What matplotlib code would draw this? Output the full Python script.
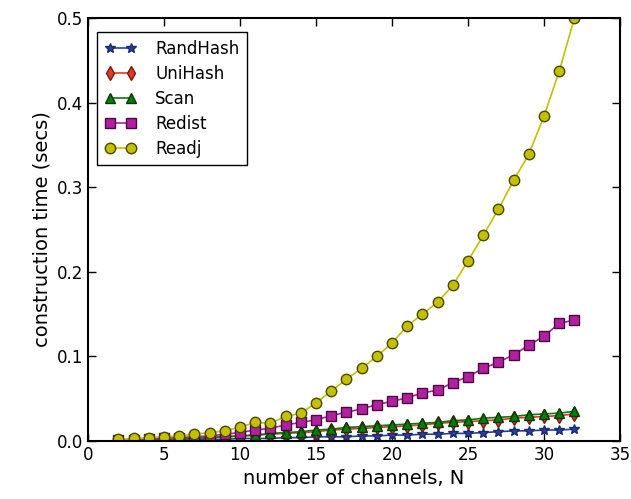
import numpy as np
import matplotlib
matplotlib.use("Agg")
import matplotlib.pyplot as plt

# channel counts
n = list(range(2, 33))

randhash = [0.000, 0.000, 0.001, 0.001, 0.001, 0.002, 0.002, 0.002, 0.003, 0.003,
            0.003, 0.004, 0.004, 0.005, 0.005, 0.005, 0.006, 0.006, 0.007, 0.007,
            0.008, 0.008, 0.009, 0.009, 0.010, 0.011, 0.012, 0.012, 0.013, 0.013, 0.014]
unihash = [0.000, 0.001, 0.001, 0.002, 0.002, 0.003, 0.004, 0.005, 0.006, 0.007,
           0.008, 0.009, 0.010, 0.011, 0.013, 0.014, 0.015, 0.016, 0.017, 0.018,
           0.019, 0.021, 0.022, 0.023, 0.024, 0.025, 0.027, 0.028, 0.029, 0.030, 0.032]
scan = [0.000, 0.001, 0.001, 0.002, 0.003, 0.003, 0.004, 0.005, 0.006, 0.007,
        0.009, 0.010, 0.011, 0.013, 0.014, 0.016, 0.017, 0.018, 0.019, 0.020,
        0.021, 0.022, 0.024, 0.025, 0.027, 0.028, 0.029, 0.031, 0.032, 0.033, 0.035]
redist = [0.001, 0.001, 0.002, 0.003, 0.004, 0.005, 0.006, 0.008, 0.010, 0.013,
          0.015, 0.019, 0.022, 0.025, 0.030, 0.034, 0.038, 0.043, 0.047, 0.051,
          0.057, 0.060, 0.069, 0.076, 0.086, 0.093, 0.102, 0.113, 0.124, 0.139, 0.143]
readj = [0.002, 0.003, 0.004, 0.005, 0.006, 0.008, 0.010, 0.012, 0.0165, 0.022,
         0.021, 0.029, 0.033, 0.045, 0.059, 0.073, 0.086, 0.100, 0.116, 0.136,
         0.150, 0.164, 0.184, 0.213, 0.243, 0.274, 0.308, 0.339, 0.384, 0.437, 0.500]

plt.rcParams['xtick.direction'] = 'in'
plt.rcParams['ytick.direction'] = 'in'
plt.rcParams['xtick.top'] = True
plt.rcParams['ytick.right'] = True

fig = plt.figure(figsize=(6.31, 4.99), dpi=100)
ax = fig.add_axes([0.1395, 0.1162, 0.8431, 0.8477])

ax.plot(n, randhash, '-*', color='#2a3f98', mec='#1a2a70', ms=7.5, lw=1.2, label='RandHash')
ax.plot(n, unihash, '-d', color='#e03a22', mec='#7a1a10', ms=7.5, lw=1.2, label='UniHash')
ax.plot(n, scan, '-^', color='#0a7a0a', mec='#063a06', ms=7.5, lw=1.2, label='Scan')
ax.plot(n, redist, '-s', color='#b020a0', mec='#4a0a40', ms=7.5, lw=1.2, label='Redist')
ax.plot(n, readj, '-o', color='#c4c000', mec='#4a4800', ms=7.5, lw=1.2, label='Readj')

ax.set_xlim(0, 35)
ax.set_ylim(0, 0.5)
ax.set_xticks([0, 5, 10, 15, 20, 25, 30, 35])
ax.set_yticks([0.0, 0.1, 0.2, 0.3, 0.4, 0.5])
ax.tick_params(labelsize=12, length=6, width=1)
for s in ax.spines.values():
    s.set_linewidth(1.5)

ax.set_xlabel('number of channels, N', fontsize=14)
ax.set_ylabel('construction time (secs)', fontsize=14)

leg = ax.legend(loc='upper left', fontsize=12, fancybox=False, framealpha=1,
                edgecolor='black', borderpad=0.45, labelspacing=0.42, numpoints=2,
                handlelength=1.9, handletextpad=1.15, borderaxespad=0,
                bbox_to_anchor=(9 / 532, 1 - 14 / 423))
leg.get_frame().set_linewidth(1.0)

fig.savefig('out.png', dpi=100)
